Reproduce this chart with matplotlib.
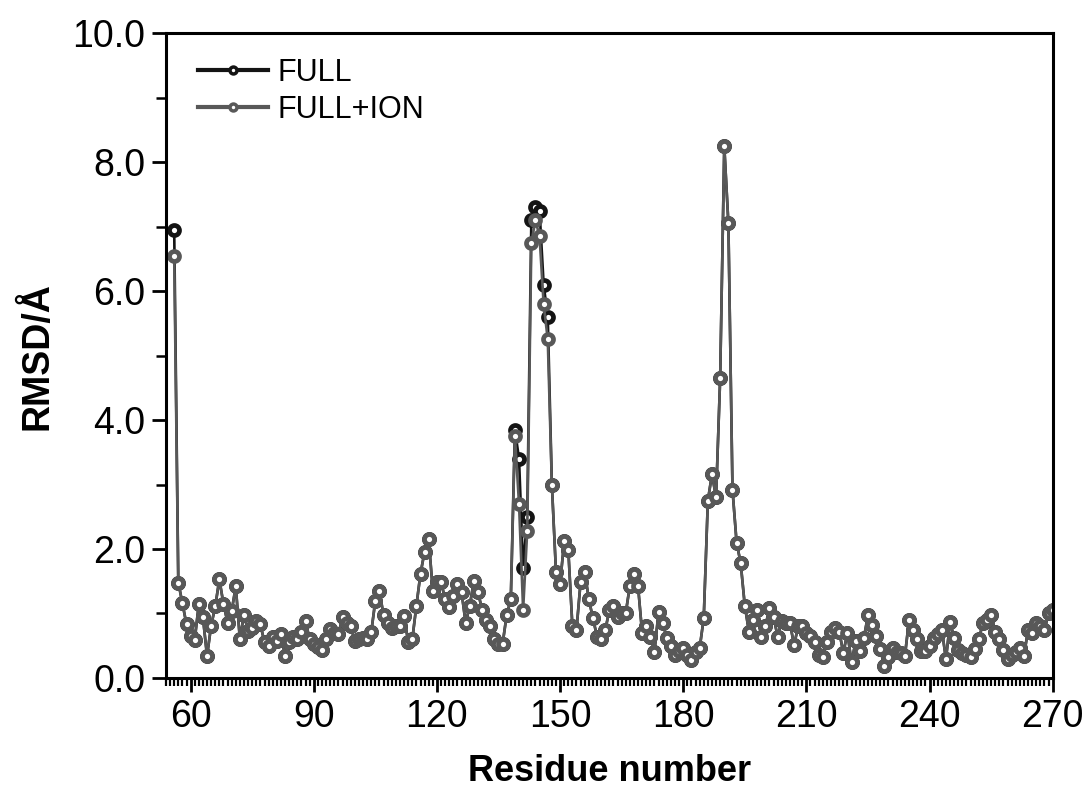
import numpy as np
import matplotlib
matplotlib.use('Agg')
import matplotlib.pyplot as plt
from matplotlib.ticker import MultipleLocator, FormatStrFormatter

plt.rcParams['font.family'] = ['Liberation Sans', 'DejaVu Sans']

# residue numbers 56..270
residues = np.arange(56, 271)

full = [
    6.95,
    1.48, 1.16, 0.83, 0.65,
    0.59, 1.15, 0.94, 0.34, 0.81, 1.11, 1.53, 1.15, 0.86, 1.04,
    1.42, 0.60, 0.98, 0.73, 0.78, 0.88, 0.83, 0.55, 0.50, 0.63,
    0.58, 0.68, 0.34, 0.55, 0.63, 0.60, 0.71, 0.88, 0.60, 0.52,
    0.48, 0.44, 0.60, 0.76, 0.70, 0.68, 0.94, 0.86, 0.80, 0.57,
    0.60, 0.62, 0.60, 0.71, 1.20, 1.35, 0.97, 0.85, 0.78, 0.80,
    0.80, 0.96, 0.56, 0.60, 1.12, 1.62, 1.96, 2.15, 1.35, 1.49,
    1.49, 1.22, 1.10, 1.27, 1.46, 1.33, 0.85, 1.12, 1.51, 1.33,
    1.06, 0.90, 0.80, 0.60, 0.53, 0.53, 0.98, 1.22, 3.85, 3.40,
    1.70, 2.50, 7.10, 7.30, 7.25, 6.10, 5.60, 3.00, 1.65, 1.46,
    2.12, 1.99, 0.80, 0.75, 1.49, 1.65, 1.22, 0.93, 0.64, 0.60,
    0.74, 1.05, 1.12, 0.95, 1.00, 1.01, 1.43, 1.62, 1.42, 0.69,
    0.80, 0.64, 0.41, 1.03, 0.85, 0.62, 0.49, 0.36, 0.42, 0.46,
    0.35, 0.28, 0.40, 0.46, 0.93, 2.75, 3.16, 2.80, 4.66, 8.25,
    7.05, 2.92, 2.10, 1.78, 1.12, 0.72, 0.90, 1.05, 0.64, 0.80,
    1.08, 0.95, 0.64, 0.89, 0.85, 0.85, 0.51, 0.80, 0.80, 0.69,
    0.65, 0.55, 0.36, 0.33, 0.56, 0.72, 0.77, 0.72, 0.39, 0.70,
    0.24, 0.57, 0.42, 0.62, 0.97, 0.82, 0.65, 0.45, 0.18, 0.32,
    0.47, 0.40, 0.38, 0.34, 0.90, 0.75, 0.60, 0.42, 0.42, 0.50,
    0.62, 0.68, 0.75, 0.29, 0.87, 0.62, 0.44, 0.38, 0.35, 0.32,
    0.45, 0.60, 0.85, 0.90, 0.97, 0.72, 0.60, 0.44, 0.29, 0.35,
    0.40, 0.47, 0.34, 0.75, 0.70, 0.85, 0.80, 0.75, 1.00, 1.05,
]

full_ion = [
    6.55,
    1.48, 1.16, 0.83, 0.65,
    0.59, 1.15, 0.94, 0.34, 0.81, 1.11, 1.53, 1.15, 0.86, 1.04,
    1.42, 0.60, 0.98, 0.73, 0.78, 0.88, 0.83, 0.55, 0.50, 0.63,
    0.58, 0.68, 0.34, 0.55, 0.63, 0.60, 0.71, 0.88, 0.60, 0.52,
    0.48, 0.44, 0.60, 0.76, 0.70, 0.68, 0.94, 0.86, 0.80, 0.57,
    0.60, 0.62, 0.60, 0.71, 1.20, 1.35, 0.97, 0.85, 0.78, 0.80,
    0.80, 0.96, 0.56, 0.60, 1.12, 1.62, 1.96, 2.15, 1.35, 1.49,
    1.49, 1.22, 1.10, 1.27, 1.46, 1.33, 0.85, 1.12, 1.51, 1.33,
    1.06, 0.90, 0.80, 0.60, 0.53, 0.53, 0.98, 1.22, 3.75, 2.70,
    1.06, 2.28, 6.75, 7.10, 6.85, 5.80, 5.25, 3.00, 1.65, 1.46,
    2.12, 1.99, 0.80, 0.75, 1.49, 1.65, 1.22, 0.93, 0.64, 0.60,
    0.74, 1.05, 1.12, 0.95, 1.00, 1.01, 1.43, 1.62, 1.42, 0.69,
    0.80, 0.64, 0.41, 1.03, 0.85, 0.62, 0.49, 0.36, 0.42, 0.46,
    0.35, 0.28, 0.40, 0.46, 0.93, 2.75, 3.16, 2.80, 4.66, 8.25,
    7.05, 2.92, 2.10, 1.78, 1.12, 0.72, 0.90, 1.05, 0.64, 0.80,
    1.08, 0.95, 0.64, 0.89, 0.85, 0.85, 0.51, 0.80, 0.80, 0.69,
    0.65, 0.55, 0.36, 0.33, 0.56, 0.72, 0.77, 0.72, 0.39, 0.70,
    0.24, 0.57, 0.42, 0.62, 0.97, 0.82, 0.65, 0.45, 0.18, 0.32,
    0.47, 0.40, 0.38, 0.34, 0.90, 0.75, 0.60, 0.42, 0.42, 0.50,
    0.62, 0.68, 0.75, 0.29, 0.87, 0.62, 0.44, 0.38, 0.35, 0.32,
    0.45, 0.60, 0.85, 0.90, 0.97, 0.72, 0.60, 0.44, 0.29, 0.35,
    0.40, 0.47, 0.34, 0.75, 0.70, 0.85, 0.80, 0.75, 1.00, 1.05,
]

fig = plt.figure(figsize=(10.92, 7.92), dpi=100)
ax = fig.add_axes([0.152, 0.144, 0.812, 0.814])

mk = dict(marker='o', markersize=7.2, markeredgewidth=3.4, markerfacecolor='white', linewidth=1.9)
ax.plot(residues, full, color='#141414', label='FULL', **mk)
ax.plot(residues, full_ion, color='#585858', label='FULL+ION', **mk)

ax.set_xlim(54, 270)
ax.set_ylim(0, 10)
ax.xaxis.set_major_locator(MultipleLocator(30))
ax.xaxis.set_minor_locator(MultipleLocator(1))
ax.yaxis.set_major_locator(MultipleLocator(2))
ax.yaxis.set_minor_locator(MultipleLocator(1))
ax.yaxis.set_major_formatter(FormatStrFormatter('%.1f'))

ax.tick_params(axis='both', which='major', direction='out', length=10, width=2, labelsize=27, pad=5)
ax.tick_params(axis='y', which='minor', direction='out', length=7, width=1.8)
ax.tick_params(axis='x', which='minor', direction='out', length=6, width=1.6)
ax.tick_params(top=False, right=False, which='both')
for s in ax.spines.values():
    s.set_linewidth(2.2)

ax.set_xlabel('Residue number', fontsize=26, fontweight='bold', labelpad=14)
ax.set_ylabel('RMSD/Å', fontsize=27, fontweight='bold', labelpad=12)

leg = ax.legend(loc='upper left', bbox_to_anchor=(0.005, 1.005), frameon=False, fontsize=22,
                numpoints=1, handlelength=2.3, handletextpad=0.3, labelspacing=0.25)
for line in leg.get_lines():
    line.set_linewidth(3)
    line.set_markersize(5)
    line.set_markeredgewidth(2.5)

fig.savefig('out.png', dpi=100)
